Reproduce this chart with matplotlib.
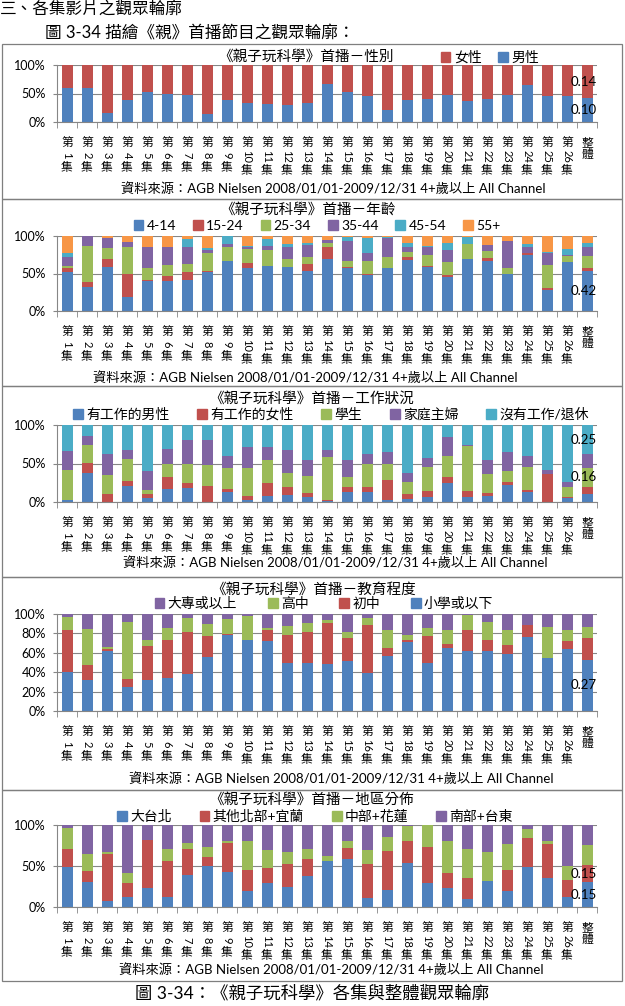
import re
import numpy as np
import matplotlib
matplotlib.use('Agg')
import matplotlib.pyplot as plt
from matplotlib.patches import Patch, Rectangle
from matplotlib.transforms import offset_copy

W, H = 625, 1006
plt.rcParams['font.family'] = ['Lato', 'Noto Sans CJK TC', 'DejaVu Sans']

episodes = ['第%d集' % i for i in range(1, 27)] + ['整體']

# 性別 (%)
sex_male = [59, 60, 16, 38, 53, 50, 48, 14, 38, 34, 31, 29, 34, 66, 52, 45, 21, 39, 41, 48, 36, 41, 48, 65, 46, 46, 42]
sex_female = [41, 40, 84, 62, 47, 50, 52, 86, 62, 66, 69, 71, 66, 34, 48, 55, 79, 61, 59, 52, 64, 59, 52, 35, 54, 54, 58]

# 年齡 (%)
age_4_14 = [52, 32, 59, 19, 40, 40, 42, 52, 67, 58, 60, 59, 53, 69, 58, 48, 57, 68, 59, 46, 70, 67, 50, 75, 28, 66, 54]
age_15_24 = [6, 7, 11, 31, 1, 7, 10, 2, 0, 6, 0, 0, 10, 16, 1, 1, 0, 4, 1, 2, 0, 4, 0, 3, 3, 0, 4]
age_25_34 = [2, 48, 14, 36, 17, 14, 11, 24, 19, 19, 21, 10, 9, 6, 8, 18, 15, 7, 15, 18, 19, 9, 8, 0, 31, 7, 15]
age_35_44 = [12, 13, 13, 6, 27, 24, 23, 3, 3, 3, 6, 17, 16, 4, 26, 10, 26, 7, 11, 15, 0, 8, 35, 7, 16, 2, 13]
age_45_54 = [6, 0, 1, 0, 0, 1, 10, 3, 11, 1, 9, 3, 3, 0, 6, 20, 1, 5, 1, 10, 10, 0, 1, 4, 1, 8, 5]
age_55p = [22, 0, 2, 8, 15, 14, 4, 16, 0, 13, 4, 11, 9, 5, 1, 3, 1, 9, 13, 9, 1, 12, 6, 11, 21, 17, 9]

# 工作狀況 (%)
work_male = [2, 38, 0, 21, 5, 17, 18, 0, 13, 3, 8, 9, 6, 1, 13, 13, 3, 4, 6, 25, 6, 8, 22, 13, 0, 5, 10]
work_female = [0, 13, 11, 6, 6, 15, 7, 21, 4, 5, 17, 10, 6, 2, 7, 6, 26, 7, 8, 8, 8, 4, 4, 2, 37, 2, 10]
work_student = [39, 23, 24, 29, 5, 17, 25, 27, 27, 36, 29, 19, 22, 56, 12, 30, 20, 15, 31, 27, 59, 25, 14, 31, 0, 12, 24]
work_housewife = [25, 12, 27, 12, 24, 20, 30, 33, 16, 28, 17, 29, 21, 9, 23, 13, 16, 12, 12, 24, 1, 17, 25, 14, 5, 7, 18]
work_none = [34, 14, 38, 32, 60, 31, 20, 19, 40, 28, 29, 33, 45, 32, 45, 38, 35, 62, 43, 16, 26, 46, 35, 40, 58, 74, 38]

# 教育程度 (%)
edu_primary = [40, 32, 62, 25, 32, 34, 38, 56, 78, 73, 72, 50, 50, 48, 52, 39, 57, 71, 49, 65, 62, 62, 59, 76, 55, 64, 53]
edu_junior = [43, 15, 2, 8, 35, 39, 43, 21, 1, 0, 12, 28, 31, 43, 23, 50, 8, 2, 28, 4, 22, 11, 9, 13, 0, 8, 22]
edu_senior = [14, 38, 2, 59, 6, 13, 15, 13, 16, 25, 2, 10, 10, 3, 6, 7, 18, 5, 9, 15, 15, 19, 16, 0, 32, 12, 12]
edu_college = [3, 15, 34, 8, 27, 14, 4, 10, 5, 2, 14, 12, 9, 6, 19, 4, 17, 22, 14, 16, 1, 8, 16, 11, 13, 16, 13]

# 地區分佈 (%)
reg_taipei = [49, 30, 7, 12, 23, 12, 39, 50, 43, 20, 29, 24, 38, 56, 58, 11, 21, 54, 29, 23, 10, 32, 19, 49, 35, 12, 30]
reg_north = [22, 14, 58, 17, 59, 44, 32, 11, 35, 25, 19, 29, 21, 0, 14, 41, 47, 27, 44, 18, 25, 0, 26, 35, 42, 21, 21]
reg_central = [25, 21, 2, 12, 0, 15, 7, 12, 3, 35, 21, 14, 12, 6, 8, 18, 17, 18, 27, 39, 36, 35, 32, 11, 4, 17, 25]
reg_south = [4, 35, 33, 59, 18, 29, 22, 27, 19, 20, 31, 33, 29, 38, 20, 30, 15, 1, 0, 20, 29, 33, 23, 5, 19, 50, 24]

BLUE, RED, GREEN = '#4F81BD', '#C0504D', '#9BBB59'
PURPLE, CYAN, ORANGE = '#8064A2', '#4BACC6', '#F79646'
GRID = '#868686'

source = '資料來源：AGB Nielsen 2008/01/01-2009/12/31 4+歲以上 All Channel'

fig = plt.figure(figsize=(W / 100, H / 100), dpi=100)


def fx(x):
    return x / W


def fy(y):
    return 1 - y / H


def cat_label(ax, x, label):
    base = ax.get_xaxis_transform()
    y = 14
    for part in re.findall(r'\d+|\D', label):
        if part.isdigit():
            h = 10 + 3 * len(part)
            tr = offset_copy(base, fig=fig, x=0, y=-(y + h / 2), units='dots')
            ax.text(x, 0, part, rotation=-90, ha='center', va='center',
                    fontsize=8, transform=tr)
        else:
            h = 12.5
            tr = offset_copy(base, fig=fig, x=0, y=-(y + h / 2), units='dots')
            ax.text(x, 0, part, ha='center', va='center', fontsize=8.5,
                    transform=tr)
        y += h


def panel(box, top, bottom, title, title_xy, series, colors, names, order,
          legend_xy, colsp, yticks, source_xy, labels):
    fig.patches.append(Rectangle((fx(2), fy(box[1])), 620 / W, (box[1] - box[0]) / H,
                                 transform=fig.transFigure, fill=False,
                                 ec='#7f7f7f', lw=0.9))
    ax = fig.add_axes([fx(57), fy(bottom), 540 / W, (bottom - top) / H])
    x = np.arange(len(episodes))
    base = np.zeros(len(episodes))
    for vals, c in zip(series, colors):
        vals = np.array(vals, dtype=float)
        ax.bar(x, vals, 0.55, bottom=base, color=c, zorder=2)
        base = base + vals
    ax.set_xlim(-0.5, len(episodes) - 0.5)
    ax.set_ylim(0, 100)
    ax.set_yticks(yticks)
    ax.set_yticklabels(['%d%%' % v for v in yticks])
    ax.yaxis.grid(True, color=GRID, lw=0.8)
    ax.set_axisbelow(True)
    for s in ['top', 'right']:
        ax.spines[s].set_visible(False)
    for s in ['left', 'bottom']:
        ax.spines[s].set_color(GRID)
        ax.spines[s].set_linewidth(0.8)
    ax.tick_params(axis='y', length=3, color=GRID, labelsize=9, pad=5)
    ax.set_xticks(x)
    ax.tick_params(axis='x', which='major', length=0, labelbottom=False)
    ax.set_xticks(np.arange(-0.5, len(episodes), 1), minor=True)
    ax.tick_params(axis='x', which='minor', length=4, color=GRID)
    for xi, lab in zip(x, episodes):
        cat_label(ax, xi, lab)

    # data labels on the last bar
    last = len(episodes) - 1
    for idx, txt in labels:
        lo = sum(s[last] for s in series[:idx])
        mid = lo + series[idx][last] / 2
        ax.text(last - 0.15, mid, txt, ha='center', va='center', fontsize=9.5, zorder=3)

    fig.text(fx(title_xy[0]), fy(title_xy[1]), title, ha='center', va='center',
             fontsize=10.5)
    handles = [Patch(color=colors[i]) for i in order]
    fig.legend(handles, [names[i] for i in order], loc='center',
               bbox_to_anchor=(fx(legend_xy[0]), fy(legend_xy[1])),
               ncol=len(order), frameon=False, fontsize=10,
               handlelength=0.7, handleheight=0.7, handletextpad=0.25,
               columnspacing=colsp, borderpad=0, borderaxespad=0)
    fig.text(fx(source_xy[0]), fy(source_xy[1]), source, ha='center',
             va='center', fontsize=9.5)


fig.text(fx(0), fy(9), '三、各集影片之觀眾輪廓', ha='left', va='center', fontsize=12)
fig.text(fx(45), fy(33), '圖 3-34 描繪《親》首播節目之觀眾輪廓：', ha='left',
         va='center', fontsize=12)

panel((44, 199), 65, 122, '《親子玩科學》首播－性別', (306, 57),
      [sex_male, sex_female], [BLUE, RED], ['男性', '女性'], [1, 0],
      (490, 57), 1.2, [0, 50, 100], (333, 188),
      [(1, '0.14'), (0, '0.10')])

panel((199, 386), 236, 311, '《親子玩科學》首播－年齡', (308, 210),
      [age_4_14, age_15_24, age_25_34, age_35_44, age_45_54, age_55p],
      [BLUE, RED, GREEN, PURPLE, CYAN, ORANGE],
      ['4-14', '15-24', '25-34', '35-44', '45-54', '55+'], [0, 1, 2, 3, 4, 5],
      (317, 226), 1.2, [0, 50, 100], (305, 377),
      [(0, '0.42')])

panel((386, 577), 425, 502, '《親子玩科學》首播－工作狀況', (312, 399),
      [work_male, work_female, work_student, work_housewife, work_none],
      [BLUE, RED, GREEN, PURPLE, CYAN],
      ['有工作的男性', '有工作的女性', '學生', '家庭主婦', '沒有工作/退休'],
      [0, 1, 2, 3, 4], (331, 414), 2.0, [0, 50, 100], (335, 562),
      [(4, '0.25'), (2, '0.16')])

panel((577, 790), 614, 711, '《親子玩科學》首播－教育程度', (314, 590),
      [edu_primary, edu_junior, edu_senior, edu_college],
      [BLUE, RED, GREEN, PURPLE],
      ['小學或以下', '初中', '高中', '大專或以上'], [3, 2, 1, 0],
      (324, 603), 2.2, [0, 20, 40, 60, 80, 100], (341, 778),
      [(0, '0.27')])

panel((790, 981), 825, 907, '《親子玩科學》首播－地區分佈', (312, 800),
      [reg_taipei, reg_north, reg_central, reg_south],
      [BLUE, RED, GREEN, PURPLE],
      ['大台北', '其他北部+宜蘭', '中部+花蓮', '南部+台東'], [0, 1, 2, 3],
      (315, 816), 2.0, [0, 50, 100], (331, 969),
      [(1, '0.15'), (0, '0.15')])

fig.text(fx(312), fy(993), '圖 3-34：《親子玩科學》各集與整體觀眾輪廓', ha='center',
         va='center', fontsize=12.5)

fig.savefig('out.png', dpi=100)
